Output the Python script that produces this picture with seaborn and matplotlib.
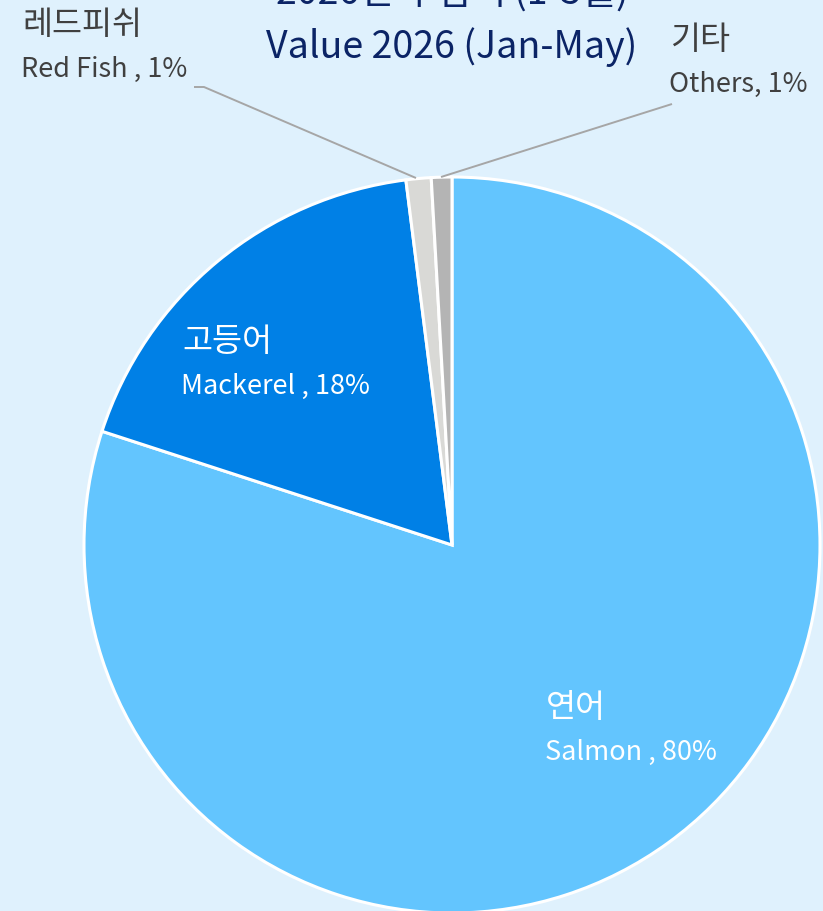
#!/usr/bin/env python3
import matplotlib
matplotlib.use("Agg")
import matplotlib.pyplot as plt
import seaborn as sns

# Import value share, Jan-May 2026
names_ko = ["연어", "고등어", "레드피쉬", "기타"]
names_en = ["Salmon", "Mackerel", "Red Fish", "Others"]
shares = [80.0, 18.0, 1.1, 0.9]
pct_labels = ["80%", "18%", "1%", "1%"]
title_ko = "2026년 수입액 (1-5월)"
title_en = "Value 2026 (Jan-May)"

colors = ["#63C5FE", "#0080E6", "#D9D9D6", "#B4B4B4"]
bg = "#DFF1FD"

sns.set_style("white")
plt.rcParams["font.family"] = ["Noto Sans CJK KR", "DejaVu Sans"]

W, H = 823, 911
fig = plt.figure(figsize=(W / 100, H / 100), dpi=100, facecolor=bg)
ax = fig.add_axes([0, 0, 1, 1])
ax.set_facecolor(bg)

# pie drawn on an inverted y axis, so go counterclockwise in data terms
cx, cy, r = 452, 545, 368
ax.pie(
    shares,
    colors=colors,
    startangle=-90,
    counterclock=True,
    center=(cx, cy),
    radius=r,
    frame=True,
    wedgeprops=dict(edgecolor="white", linewidth=2.2),
)
ax.set_xlim(0, W)
ax.set_ylim(H, 0)
ax.set_aspect("equal")
ax.axis("off")

# titles (top line is clipped by the figure edge in the original)
ax.text(452, -7, title_ko, ha="center", va="center", fontsize=27, color="#0B2466")
ax.text(452, 47, title_en, ha="center", va="center", fontsize=27, color="#0B2466")

# labels: (x, y of korean line, colour)
label_pos = [(546, 708, "white"), (182, 342, "white"), (22, 25, "#404040"), (670, 40, "#404040")]
for i, (x, y, c) in enumerate(label_pos):
    sep = " , " if names_en[i] != "Others" else ", "
    ax.text(x, y, names_ko[i], ha="left", va="center", fontsize=23.5, color=c)
    ax.text(x - 1, y + 44, names_en[i] + sep + pct_labels[i],
            ha="left", va="center", fontsize=19.5, color=c)

# leader lines
ax.plot([194, 204, 416], [87, 87, 178], color="#A6A6A6", lw=1.4, solid_capstyle="butt")
ax.plot([441, 672], [177, 104], color="#A6A6A6", lw=1.4, solid_capstyle="butt")

fig.savefig("out.png", dpi=100, facecolor=bg)
